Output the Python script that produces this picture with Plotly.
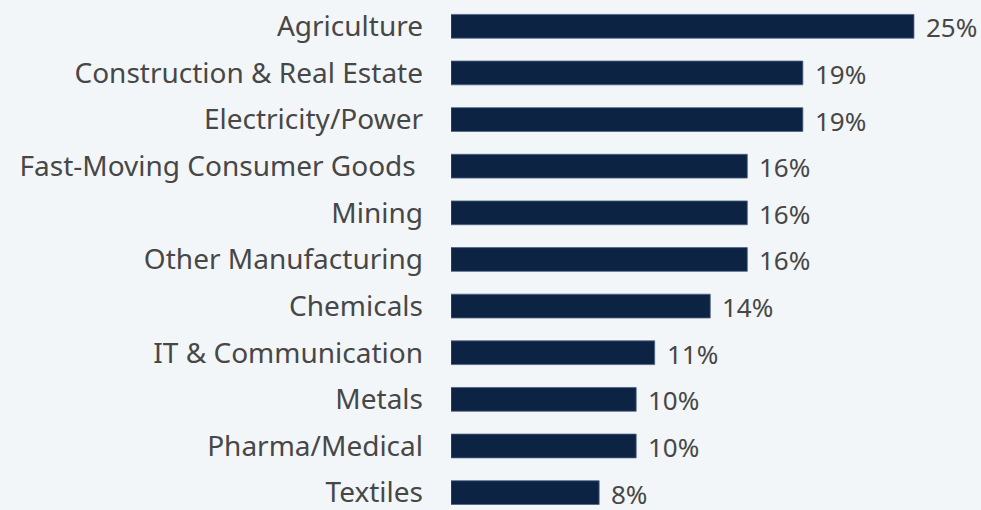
import plotly.graph_objects as go

sectors = [
    "Agriculture",
    "Construction & Real Estate",
    "Electricity/Power",
    "Fast-Moving Consumer Goods ",
    "Mining",
    "Other Manufacturing",
    "Chemicals",
    "IT & Communication",
    "Metals",
    "Pharma/Medical",
    "Textiles",
]
shares = [25, 19, 19, 16, 16, 16, 14, 11, 10, 10, 8]
share_labels = [f"{v}%" for v in shares]

BG = "#f3f6f8"
BAR = "#0c2344"
TEXT = "#474747"
FONT = "Noto Sans"

fig = go.Figure(
    go.Bar(
        x=shares,
        y=sectors,
        orientation="h",
        marker=dict(color=BAR, line=dict(color="#4f6383", width=0.8)),
        width=0.51,
        hoverinfo="skip",
    )
)

for name, val, lab in zip(sectors, shares, share_labels):
    fig.add_annotation(
        x=val, y=name, text=lab, showarrow=False,
        xanchor="left", yanchor="middle", xshift=10, yshift=-1,
        font=dict(family=FONT, size=26, color=TEXT),
    )

fig.update_layout(
    width=981,
    height=510,
    margin=dict(l=451, r=0, t=0, b=0),
    paper_bgcolor=BG,
    plot_bgcolor=BG,
    showlegend=False,
    xaxis=dict(range=[0, 28.62], visible=False, fixedrange=True),
    yaxis=dict(
        categoryorder="array",
        categoryarray=sectors,
        range=[10.287, -0.564],
        showgrid=False,
        zeroline=False,
        showline=False,
        ticks="",
        ticklabelstandoff=27,
        tickfont=dict(family=FONT, size=28, color=TEXT),
        fixedrange=True,
    ),
)

fig.write_html("out.html")
